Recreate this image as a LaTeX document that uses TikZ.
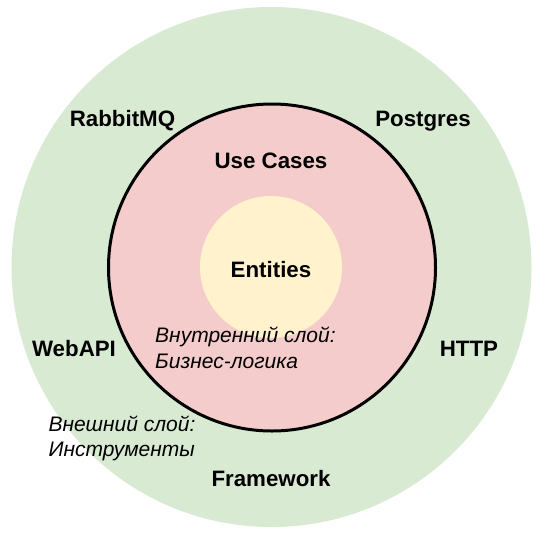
\documentclass[tikz,border=0pt]{standalone}
\usepackage{fontspec}
\setmainfont{Liberation Sans}
\definecolor{outergreen}{HTML}{D9EAD3}
\definecolor{innerred}{HTML}{F4CCCC}
\definecolor{coreyellow}{HTML}{FFF2CC}
\tikzset{
  layer/.style={circle, inner sep=0pt, outer sep=0pt},
  boldlabel/.style={anchor=base, inner sep=0pt, font=\fontsize{22.3}{26}\selectfont\bfseries},
  notelabel/.style={anchor=base west, inner sep=0pt, font=\fontsize{21}{25}\selectfont\itshape},
}
\begin{document}
\begin{tikzpicture}[x=1pt, y=-1pt]
\useasboundingbox (0,0) rectangle (548,538);
\node[layer, fill=outergreen, minimum size=520pt] (outer) at (271.5,267) {};
\node[layer, fill=innerred, draw=black, line width=3pt, minimum size=327pt] (inner) at (272,267.5) {};
\node[layer, fill=coreyellow, minimum size=142pt] (core) at (271,267) {};

\node[boldlabel] (rabbit) at (122.5,126.7) {RabbitMQ};
\node[boldlabel] (postgres) at (423,126.7) {Postgres};
\node[boldlabel] (usecases) at (271,168) {Use Cases};
\node[boldlabel] (entities) at (271,277) {Entities};
\node[boldlabel] (webapi) at (74,356.7) {WebAPI};
\node[boldlabel] (http) at (469,356.7) {HTTP};
\node[boldlabel] (framework) at (271,486.7) {Framework};

\node[notelabel] (innerA) at (155,342.7) {Внутренний слой:};
\node[notelabel] (innerB) at (155,368.3) {Бизнес-логика};
\node[notelabel] (outerA) at (48.3,431.7) {Внешний слой:};
\node[notelabel] (outerB) at (48.3,456.7) {Инструменты};
\end{tikzpicture}
\end{document}
